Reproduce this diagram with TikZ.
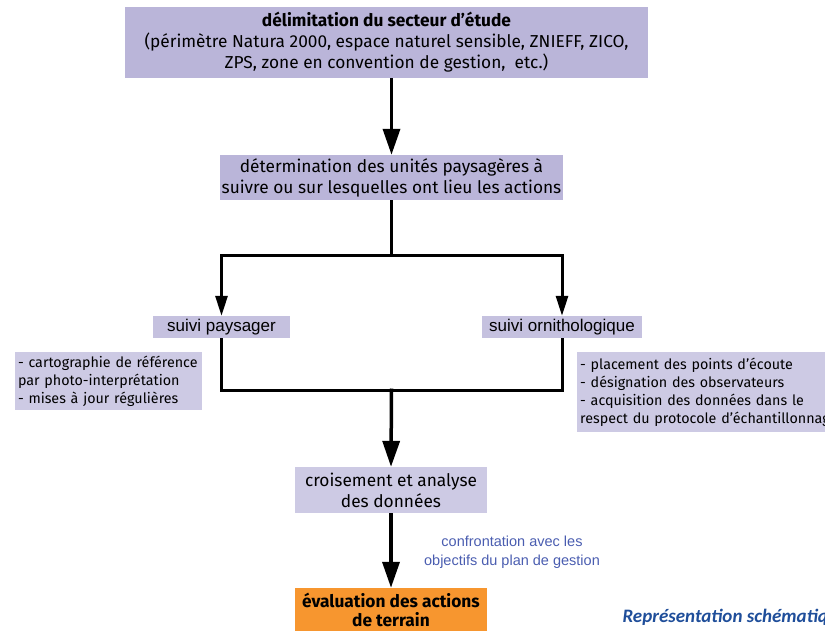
\documentclass[tikz,border=0pt]{standalone}
\usepackage{fontspec}
\setmainfont{Fira Sans}
\newfontfamily\arialfont{Liberation Sans}
\newfontfamily\titlefont{Carlito}
\usetikzlibrary{arrows.meta}
\definecolor{boxlav}{HTML}{BAB5D9}
\definecolor{boxlight}{HTML}{CDCAE4}
\definecolor{boxmid}{HTML}{C5C1DF}
\definecolor{evalorange}{HTML}{F7962F}
\definecolor{notetext}{HTML}{4A5DB0}
\definecolor{titleblue}{HTML}{1F4E9A}
\begin{document}
\begin{tikzpicture}[x=1pt,y=-1pt,
  stage/.style={fill=boxlav, inner sep=0pt, align=center, font=\fontsize{17.3}{21}\selectfont},
  branchbox/.style={fill=boxmid, inner sep=0pt, align=center, font=\arialfont\fontsize{17}{20}\selectfont},
  notebox/.style={fill=boxlight, inner sep=0pt, align=left, font=\fontsize{14.3}{18}\selectfont},
  bigarrow/.style={line width=3.5pt, -{Triangle[width=17pt,length=26pt]}},
  smallarrow/.style={line width=3pt, -{Triangle[width=12pt,length=20pt]}},
  joinline/.style={line width=3pt}]
\useasboundingbox (0,0) rectangle (825,630);
\clip (0,0) rectangle (825,630);

% stage boxes
\node[stage, minimum width=523pt, minimum height=71pt] (top) at (386.5,42.5)
  {\textbf{délimitation du secteur d'étude}\\
   (périmètre Natura 2000, espace naturel sensible, ZNIEFF, ZICO,\\
   ZPS, zone en convention de gestion,\ \ etc.)};
\node[stage, minimum width=343pt, minimum height=45pt] (det) at (391.5,177.5)
  {détermination des unités paysagères à\\ suivre ou sur lesquelles ont lieu les actions};

% the two monitoring branches
\node[branchbox, minimum width=137pt, minimum height=22pt] (sp) at (221.5,327) {suivi paysager};
\node[branchbox, minimum width=160pt, minimum height=22pt] (so) at (562,327) {suivi ornithologique};

% detail notes
\node[notebox, minimum width=187pt, minimum height=58pt, text width=181pt] (nl) at (108.5,381)
  {- cartographie de référence\\ par photo-interprétation\\ - mises à jour régulières};
\node[notebox, minimum width=300pt, minimum height=80pt, text width=294pt, anchor=west] (nr) at (577,392)
  {- placement des points d'écoute\\ - désignation des observateurs\\ - acquisition des données dans le\\ respect du protocole d'échantillonnage};

% synthesis and outcome
\node[stage, fill=boxlight, minimum width=192pt, minimum height=46pt] (cr) at (391,490)
  {croisement et analyse\\ des données};
\node[stage, fill=evalorange, minimum width=192pt, minimum height=44pt, font=\bfseries\fontsize{17.3}{19}\selectfont] (ev) at (391,610)
  {évaluation des actions\\ de terrain};

% connectors
\draw[bigarrow] (top.south -| det.north) -- (det.north);
\draw[joinline] (det.south) -- ++(0,55) coordinate (split);
\draw[smallarrow] (split) -| (sp.north);
\draw[smallarrow] (split) -| (so.north);
\coordinate (merge) at (det.south |- 0,390);
\draw[joinline] (sp.south) |- (merge) -| (so.south);
\draw[bigarrow] ([yshift=1.5pt]merge) -- (cr.north);
\draw[bigarrow] (cr.south) -- (ev.north);

\node[text=notetext, align=center, font=\arialfont\fontsize{14.5}{19}\selectfont] (conf) at (512,552)
  {confrontation avec les\\ objectifs du plan de gestion};

\node[text=titleblue, anchor=west, font=\titlefont\bfseries\itshape\fontsize{19}{22}\selectfont] (caption) at (619,617)
  {Représentation schématique};
\end{tikzpicture}
\end{document}
